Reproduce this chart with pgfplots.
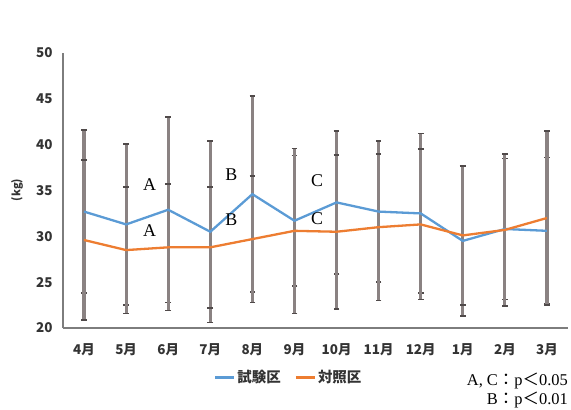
\documentclass[border=0pt]{standalone}
\usepackage{fontspec}
\setmainfont{Liberation Serif}
\newfontfamily\jp{Noto Sans CJK JP}
\usepackage{pgfplots}
\usepackage{pgfplotstable}
\pgfplotsset{compat=1.18}

\definecolor{testblue}{RGB}{91,155,213}
\definecolor{ctrlorange}{RGB}{237,125,49}
\definecolor{bargray}{RGB}{138,130,130}
\definecolor{capgray}{RGB}{80,74,74}
\definecolor{axisgray}{RGB}{125,125,125}

% 試験区: mean and standard deviation per month (4月 ... 3月)
\pgfplotstableread{
x  y     e
0  32.7  8.9
1  31.3  8.8
2  32.9  10.1
3  30.5  9.9
4  34.6  10.7
5  31.7  7.1
6  33.7  7.8
7  32.7  7.7
8  32.5  8.7
9  29.5  8.2
10 30.8  7.7
11 30.6  8.0
}\testdata

% 対照区
\pgfplotstableread{
x  y     e
0  29.6  8.7
1  28.5  6.9
2  28.8  6.9
3  28.8  6.6
4  29.7  6.9
5  30.6  9.0
6  30.5  8.4
7  31.0  8.0
8  31.3  8.2
9  30.1  7.6
10 30.7  8.3
11 32.0  9.5
}\ctrldata

\newcommand{\lblfont}{\jp\bfseries\fontsize{13.5}{14}\selectfont}
\newcommand{\legfont}{\jp\bfseries\fontsize{14.5}{15}\selectfont}

\pgfplotsset{
  sd bars/.style={
    draw=none, forget plot,
    error bars/.cd, y dir=both, y explicit,
    error bar style={draw=bargray, line width=3.2bp},
    error mark options={draw=capgray, line width=1.6bp, mark size=2.8bp, rotate=90},
  },
}

\begin{document}
\begin{tikzpicture}
\useasboundingbox (0,0) rectangle (571bp,410bp);
\begin{axis}[
  at={(63bp,82bp)}, anchor=south west,
  scale only axis, width=505bp, height=275bp,
  xmin=-0.5, xmax=11.5, ymin=20, ymax=50,
  axis x line*=bottom, axis y line*=left,
  axis line style={draw=axisgray, line width=1.6bp, -},
  major tick length=0pt,
  xtick={0,...,11},
  xticklabels={4月,5月,6月,7月,8月,9月,10月,11月,12月,1月,2月,3月},
  ytick={20,25,...,50},
  /pgf/number format/assume math mode=true,
  tick label style={font=\lblfont, text=black!80},
  yticklabel style={xshift=-7bp},
  xticklabel style={yshift=-12bp},
  clip=false,
  legend columns=2,
  legend style={at={(0.447,-0.180)}, anchor=center, draw=none, fill=none,
    font=\legfont, text=black!80,
    /tikz/every even column/.append style={column sep=12bp}},
  legend image code/.code={\draw[#1] (0bp,0bp) -- (19bp,0bp);},
]
  % standard deviation bars first, so the lines lie over them
  \addplot[sd bars] table[x=x, y=y, y error=e] {\testdata};
  \addplot[sd bars] table[x=x, y=y, y error=e] {\ctrldata};

  \addplot[testblue, line width=2.3bp, no markers] table[x=x, y=y] {\testdata};
  \addlegendentry{試験区}
  \addplot[ctrlorange, line width=2.3bp, no markers] table[x=x, y=y] {\ctrldata};
  \addlegendentry{対照区}

  % significance letters
  \begin{scope}[every node/.style={font=\fontsize{18}{18}\selectfont}]
    \node at (axis cs:1.56,35.6) {A};
    \node at (axis cs:1.56,30.6) {A};
    \node at (axis cs:3.5,36.7) {B};
    \node at (axis cs:3.5,31.8) {B};
    \node at (axis cs:5.54,36.1) {C};
    \node at (axis cs:5.54,31.9) {C};
  \end{scope}
\end{axis}
% unit label of the y axis
\node[rotate=90, font=\jp\bfseries\fontsize{11}{12}\selectfont, text=black!80]
  at (17bp,220bp) {(kg)};
% significance levels
\node[anchor=east, font=\fontsize{16.5}{17}\selectfont, inner sep=0pt]
  at (568bp,29bp) {A, C{\jp ：}p{\jp ＜}0.05};
\node[anchor=east, font=\fontsize{16.5}{17}\selectfont, inner sep=0pt]
  at (568bp,10bp) {B{\jp ：}p{\jp ＜}0.01};
\end{tikzpicture}
\end{document}
